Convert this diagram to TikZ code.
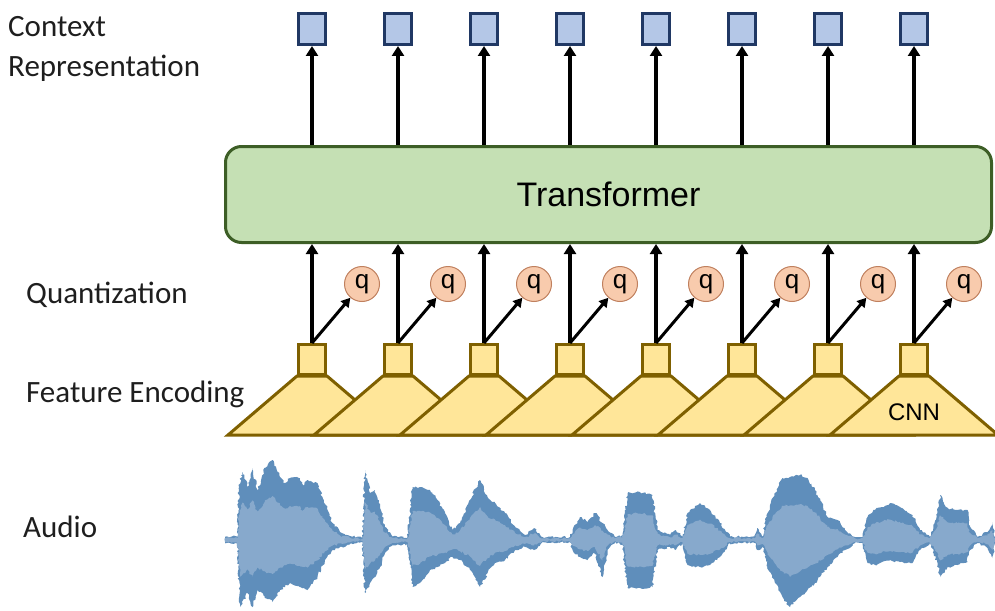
\documentclass[tikz,border=0pt]{standalone}
\usepackage{fontspec}
\setmainfont{Carlito}
\newfontfamily\arialfont{Liberation Sans}
\usetikzlibrary{arrows.meta,decorations.pathmorphing}

\definecolor{ctxfill}{HTML}{B4C7E7}
\definecolor{ctxline}{HTML}{203864}
\definecolor{trfill}{HTML}{C5E0B4}
\definecolor{trline}{HTML}{3D5E26}
\definecolor{encfill}{HTML}{FFE699}
\definecolor{encline}{HTML}{7F6000}
\definecolor{qfill}{HTML}{F8CBAD}
\definecolor{qline}{HTML}{C0805E}
\definecolor{wavedark}{HTML}{5F8EBB}
\definecolor{wavelight}{HTML}{87A9CC}
\definecolor{labtext}{HTML}{1E1E1E}

% speech waveform envelope: x, offset from the centre line (down is positive)
\newcommand\wavepath{(225,-3.3) -- (237.5,-3.3) -- (239,-53) -- (242.5,-68) -- (247.5,-53) -- (252.5,-72) -- (257.5,-50) -- (265,-72) -- (272.5,-80) -- (280,-63) -- (285,-57) -- (290,-62) -- (300,-62) -- (302.5,-53) -- (307.5,-60) -- (317.5,-57) -- (322.5,-43) -- (327.5,-30) -- (332.5,-17) -- (340,-8) -- (350,-4) -- (362.5,-2) -- (365,-70) -- (370,-47) -- (375,-50) -- (380,-33) -- (385,-13) -- (392.5,-3.5) -- (407.5,-3) -- (412.5,-53) -- (420,-53) -- (430,-50) -- (437.5,-40) -- (445,-27) -- (452.5,-10) -- (460,-17) -- (470,-40) -- (480,-60) -- (487.5,-43) -- (495,-37) -- (505,-27) -- (515,-13) -- (525,-5) -- (534,-12) -- (542.5,-3) -- (570,-3) -- (572.5,-10) -- (580,-23) -- (587.5,-18) -- (595,-27) -- (602.5,-17) -- (607.5,-10) -- (615,-3) -- (622.5,-5) -- (627.5,-47) -- (640,-48) -- (652.5,-45) -- (657.5,-10) -- (670,-5) -- (675,-10) -- (682.5,-3.3) -- (687.5,-27) -- (700,-37) -- (710,-30) -- (720,-17) -- (730,-3.3) -- (755,-3) -- (757.5,-12) -- (762.5,-3.3) -- (767.5,-27) -- (775,-47) -- (782.5,-62) -- (790,-63) -- (800,-65) -- (807.5,-62) -- (815,-50) -- (820,-40) -- (827.5,-23) -- (837.5,-20) -- (845,-10) -- (855,-3) -- (862.5,-3) -- (867.5,-23) -- (875,-30) -- (890,-37) -- (900,-33) -- (912.5,-25) -- (920,-10) -- (930,-3) -- (937.5,-27) -- (940,-45) -- (947.5,-32) -- (957.5,-30) -- (967.5,-30) -- (970,-13) -- (977.5,-3) -- (987.5,-8) -- (992.5,-18) -- (995,-3)
 -- (995,3) -- (992.5,18) -- (987.5,8) -- (977.5,3) -- (970,10) -- (967.5,22) -- (957.5,25) -- (947.5,27) -- (940,37) -- (937.5,23) -- (930,3) -- (920,10) -- (912.5,23) -- (900,22) -- (890,20) -- (875,25) -- (867.5,23) -- (862.5,3) -- (855,3) -- (845,10) -- (837.5,17) -- (827.5,27) -- (820,37) -- (815,43) -- (807.5,50) -- (800,57) -- (790,67) -- (782.5,57) -- (775,43) -- (767.5,27) -- (762.5,7) -- (757.5,10) -- (755,3) -- (730,3.3) -- (720,17) -- (710,25) -- (700,27) -- (687.5,25) -- (682.5,3.3) -- (675,10) -- (670,7) -- (657.5,10) -- (652.5,47) -- (640,48) -- (627.5,48) -- (622.5,5) -- (615,2) -- (607.5,10) -- (602.5,37) -- (595,13) -- (587.5,20) -- (580,17) -- (572.5,10) -- (570,2) -- (542.5,2) -- (534,10) -- (525,7) -- (515,10) -- (505,20) -- (495,23) -- (487.5,33) -- (480,47) -- (470,30) -- (460,20) -- (452.5,17) -- (445,23) -- (437.5,27) -- (430,30) -- (420,43) -- (412.5,47) -- (407.5,4) -- (392.5,5) -- (385,13) -- (380,27) -- (375,37) -- (370,43) -- (365,53) -- (362.5,2) -- (355,3.3) -- (342.5,7) -- (332.5,10) -- (325,20) -- (317.5,37) -- (307.5,50) -- (300,47) -- (290,43) -- (280,50) -- (272.5,62) -- (265,57) -- (257.5,50) -- (252.5,67) -- (247.5,53) -- (240,67) -- (237.5,3.3) -- (225,3.3) -- cycle}

\begin{document}
\begin{tikzpicture}[x=1pt,y=-1pt,
  lab/.style={inner sep=0pt,text=labtext,font=\fontsize{31}{37}\selectfont},
  ctxbox/.style={draw=ctxline,fill=ctxfill,line width=3pt,minimum width=27pt,minimum height=31pt,inner sep=0pt},
  encbox/.style={draw=encline,fill=encfill,line width=3pt,minimum width=27pt,minimum height=30pt,inner sep=0pt},
  trbox/.style={draw=trline,fill=trfill,line width=3pt,rounded corners=16pt,minimum width=766pt,minimum height=96pt,inner sep=0pt,font=\arialfont\fontsize{34}{40}\selectfont},
  qnode/.style={circle,draw=qline,fill=qfill,line width=1pt,minimum size=35pt,inner sep=0pt,font=\arialfont\fontsize{26}{30}\selectfont},
  cnn/.style={draw=encline,fill=encfill,line width=3pt},
  jagged/.style={decorate,decoration={random steps,segment length=2pt,amplitude=1.2pt}},
  uparrow/.style={line width=3.5pt,-{Triangle[length=10pt,width=12pt]}},
  qarrow/.style={line width=3pt,-{Triangle[length=9pt,width=10pt]}}]
\useasboundingbox (0,0) rectangle (995,610);
\clip (0,0) rectangle (995,610);

% row labels
\node[lab,anchor=base west] (lctx) at (8,37) {Context};
\node[lab,anchor=base west] (lrep) at (8,76) {Representation};
\node[lab,anchor=base west] (lq) at (26,303) {Quantization};
\node[lab,anchor=base west] (lfe) at (26,402) {Feature Encoding};
\node[lab,anchor=base west] (lau) at (23,537) {Audio};

% audio waveform: dark outer envelope, lighter core
\pgfmathsetseed{7}
\begin{scope}[shift={(0,540)}]
  \fill[wavedark,jagged] \wavepath;
\end{scope}
\begin{scope}[shift={(0,540)},yscale=0.55]
  \fill[wavelight,jagged] \wavepath;
\end{scope}

% overlapping CNN encoder blocks
\foreach \i in {1,...,8}{
  \pgfmathsetmacro{\cx}{312+86*(\i-1)}
  \draw[cnn] (\cx-15,376) -- (\cx+15,376) -- (\cx+84,435) -- (\cx-84,435) -- cycle;
}
\node[font=\arialfont\fontsize{24}{28}\selectfont,inner sep=0pt] (cnnlab) at (914,412) {CNN};

% transformer
\node[trbox] (T) at (608.5,194.5) {Transformer};

% feature vectors, quantizers and context vectors
\foreach \i in {1,...,8}{
  \pgfmathsetmacro{\cx}{312+86*(\i-1)}
  \node[encbox] (e\i) at (\cx,359.5) {};
  \node[qnode] (q\i) at (\cx+50,284) {q};
  \node[ctxbox] (c\i) at (\cx,29) {};
  \draw[uparrow] (e\i.north) -- (e\i.north |- T.south);
  \draw[qarrow] (e\i.north) -- (q\i);
  \draw[uparrow] (c\i.south |- T.north) -- (c\i.south);
}
\end{tikzpicture}
\end{document}
